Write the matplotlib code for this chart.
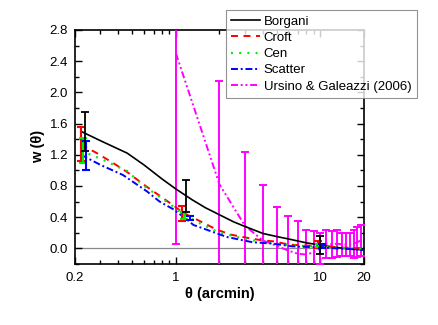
import numpy as np
import matplotlib
matplotlib.use("Agg")
import matplotlib.pyplot as plt
from matplotlib.ticker import FixedLocator, NullFormatter, FixedFormatter

plt.rcParams['font.family'] = ['Liberation Sans', 'DejaVu Sans']
plt.rcParams['lines.scale_dashes'] = False

# ---- model curves ----
th_borgani = [0.22, 0.30, 0.46, 0.60, 0.80, 1.0, 1.3, 1.6, 2.0, 2.5, 3.0, 4.0, 5.0, 6.0, 8.0, 10.0, 13.0, 16.0, 20.0]
w_borgani = [1.50, 1.38, 1.22, 1.07, 0.89, 0.76, 0.62, 0.52, 0.43, 0.34, 0.28, 0.19, 0.15, 0.12, 0.07, 0.04, 0.01, -0.01, -0.02]

th_croft = [0.22, 0.284, 0.37, 0.47, 0.60, 0.77, 0.96, 1.11, 1.46, 1.91, 2.4, 3.2, 4.0, 4.7, 6.1, 8.0, 10.0, 14.0, 20.0]
w_croft = [1.33, 1.22, 1.09, 0.965, 0.815, 0.675, 0.55, 0.46, 0.35, 0.24, 0.175, 0.13, 0.10, 0.09, 0.047, 0.035, 0.03, 0.01, 0.0]

th_cen = [0.22, 0.30, 0.46, 0.60, 0.80, 1.0, 1.14, 1.5, 2.0, 3.0, 4.0, 6.0, 10.0, 20.0]
w_cen = [1.25, 1.15, 0.99, 0.80, 0.64, 0.51, 0.43, 0.31, 0.20, 0.12, 0.08, 0.04, 0.02, -0.01]

th_scatter = [0.22, 0.30, 0.43, 0.63, 0.77, 0.96, 1.19, 1.32, 2.24, 3.4, 4.7, 6.3, 10.0, 20.0]
w_scatter = [1.20, 1.07, 0.94, 0.73, 0.60, 0.50, 0.37, 0.30, 0.146, 0.077, 0.06, 0.026, 0.01, -0.02]

# ---- Ursino & Galeazzi (2006) data ----
th_ug = [1, 2, 3, 4, 5, 6, 7, 8, 9, 10, 11, 12, 13, 14, 15, 16, 17, 18, 19]
w_ug = [2.5, 0.82, 0.29, 0.10, 0.03, -0.03, -0.07, -0.08, -0.05, 0.0, 0.06, 0.05, 0.06, 0.05, 0.05, 0.05, 0.06, 0.08, 0.10]
e_ug = [2.44, 1.32, 0.94, 0.715, 0.50, 0.45, 0.42, 0.32, 0.27, 0.20, 0.18, 0.17, 0.17, 0.15, 0.15, 0.15, 0.18, 0.19, 0.20]

# ---- model error bars ----
th_eb_borgani = [0.235, 1.17, 10.0]
w_eb_borgani = [1.50, 0.665, 0.045]
e_eb_borgani = [0.25, 0.205, 0.115]

th_eb_croft = [0.222, 1.11, 9.6]
w_eb_croft = [1.335, 0.45, 0.05]
e_eb_croft = [0.215, 0.095, 0.05]

th_eb_cen = [0.228, 1.14, 9.8]
w_eb_cen = [1.25, 0.42, 0.04]
e_eb_cen = [0.16, 0.04, 0.02]

th_eb_scatter = [0.24, 1.25, 10.2]
w_eb_scatter = [1.19, 0.39, 0.03]
e_eb_scatter = [0.19, 0.03, 0.02]

xtick_vals = [0.2, 1, 10, 20]
xtick_labels = ['0.2', '1', '10', '20']
ytick_vals = [0.0, 0.4, 0.8, 1.2, 1.6, 2.0, 2.4, 2.8]

fig = plt.figure(figsize=(4.38, 3.25), dpi=100)
ax = fig.add_axes([0.171, 0.188, 0.660, 0.720])

ax.axhline(0.0, color='#888888', lw=0.9, zorder=1)

l1, = ax.plot(th_borgani, w_borgani, color='black', lw=1.2, label='Borgani', zorder=4)
l2, = ax.plot(th_croft, w_croft, color='#ff0000', lw=1.4, dashes=(5, 4), label='Croft', zorder=4)
l3, = ax.plot(th_cen, w_cen, color='#00ee00', lw=1.6, dashes=(1.4, 4.5), label='Cen', zorder=4)
l4, = ax.plot(th_scatter, w_scatter, color='#0000ff', lw=1.4, dashes=(5, 2, 1.4, 2), label='Scatter', zorder=4)
l5, = ax.plot(th_ug, w_ug, color='#ff00ff', lw=1.4, dashes=(5, 2, 1.4, 2, 1.4, 2), label='Ursino & Galeazzi (2006)', zorder=3)

ax.errorbar(th_ug, w_ug, yerr=e_ug, fmt='none', ecolor='#ff00ff', elinewidth=1.4, capsize=3, capthick=1.4, zorder=3)
ax.errorbar(th_eb_croft, w_eb_croft, yerr=e_eb_croft, fmt='none', ecolor='#ff0000', elinewidth=1.5, capsize=3, capthick=1.5, zorder=5)
ax.errorbar(th_eb_cen, w_eb_cen, yerr=e_eb_cen, fmt='none', ecolor='#00ee00', elinewidth=1.5, capsize=3, capthick=1.5, zorder=5)
ax.errorbar(th_eb_scatter, w_eb_scatter, yerr=e_eb_scatter, fmt='none', ecolor='#0000ff', elinewidth=1.5, capsize=3, capthick=1.5, zorder=5)
ax.errorbar(th_eb_borgani, w_eb_borgani, yerr=e_eb_borgani, fmt='none', ecolor='black', elinewidth=1.3, capsize=3, capthick=1.3, zorder=6)

ax.set_xscale('log')
ax.set_xlim(0.2, 20)
ax.set_ylim(-0.2, 2.8)

ax.xaxis.set_major_locator(FixedLocator(xtick_vals))
ax.xaxis.set_major_formatter(FixedFormatter(xtick_labels))
minor_x = [0.3, 0.4, 0.5, 0.6, 0.7, 0.8, 0.9, 2, 3, 4, 5, 6, 7, 8, 9]
ax.xaxis.set_minor_locator(FixedLocator(minor_x))
ax.xaxis.set_minor_formatter(NullFormatter())
ax.set_yticks(ytick_vals)
ax.set_yticklabels(['%.1f' % v for v in ytick_vals])
ax.yaxis.set_minor_locator(FixedLocator([-0.2, 0.2, 0.6, 1.0, 1.4, 1.8, 2.2, 2.6]))

ax.tick_params(which='both', direction='in', top=True, right=True, labelsize=9.5, width=1.0, colors='black')
ax.tick_params(which='major', length=5)
ax.tick_params(which='minor', length=3)
ax.tick_params(axis='x', which='major', pad=6)
ax.tick_params(axis='y', which='major', pad=5)
for s in ax.spines.values():
    s.set_linewidth(1.2)

ax.set_xlabel('θ (arcmin)', fontsize=10.5, fontweight='bold', labelpad=2)
ax.set_ylabel('w (θ)', fontsize=10.5, fontweight='bold', labelpad=3)

leg = fig.legend(handles=[l1, l2, l3, l4, l5], loc='upper left', bbox_to_anchor=(0.515, 0.968),
                 bbox_transform=fig.transFigure, fontsize=9.5, frameon=True, fancybox=False,
                 edgecolor='#777777', handlelength=2.2, handletextpad=0.3, borderpad=0.4,
                 labelspacing=0.3, borderaxespad=0)
leg.get_frame().set_linewidth(0.8)

fig.savefig('out.png', dpi=100)
